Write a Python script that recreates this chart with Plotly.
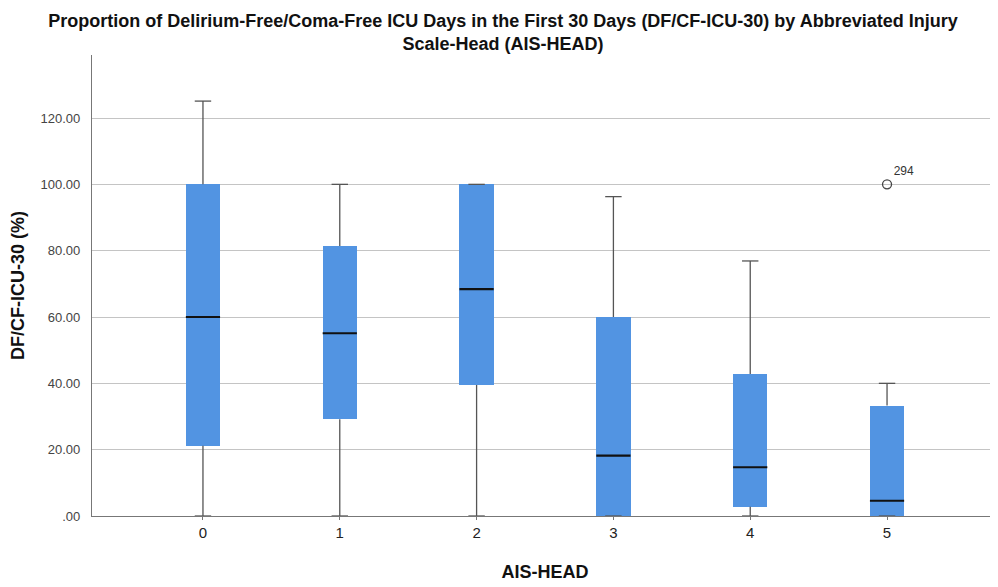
import plotly.graph_objects as go

categories = ["0", "1", "2", "3", "4", "5"]
lower_whisker = [0, 0, 0, 0, 0, 0]
q1 = [21.2, 29.2, 39.5, 0, 2.8, 0]
median = [60.0, 55.1, 68.4, 18.2, 14.7, 4.6]
q3 = [100, 81.4, 100, 60.0, 42.8, 33.3]
upper_whisker = [125.1, 100, 100, 96.3, 76.9, 40.0]
outlier_cat = ["5"]
outlier_val = [100]
outlier_label = ["294"]

ytick_vals = [0, 20, 40, 60, 80, 100, 120]
ytick_text = [".00", "20.00", "40.00", "60.00", "80.00", "100.00", "120.00"]

idx = list(range(len(categories)))
box_w = 0.25
cap_hw = 0.06

fig = go.Figure()

# whiskers
wx, wy = [], []
for i in idx:
    wx += [i, i, None, i, i, None]
    wy += [q3[i], upper_whisker[i], None, q1[i], lower_whisker[i], None]
    wx += [i - cap_hw, i + cap_hw, None, i - cap_hw, i + cap_hw, None]
    wy += [upper_whisker[i], upper_whisker[i], None, lower_whisker[i], lower_whisker[i], None]
fig.add_trace(go.Scatter(x=wx, y=wy, mode="lines", line=dict(color="#555555", width=1.3),
                         hoverinfo="skip", showlegend=False))

# boxes
fig.add_trace(go.Bar(x=idx, y=[q3[i] - q1[i] for i in idx], base=q1, width=box_w,
                     marker=dict(color="#5294E2", line=dict(width=0)), showlegend=False))

# medians
mx, my = [], []
for i in idx:
    mx += [i - box_w / 2, i + box_w / 2, None]
    my += [median[i], median[i], None]
fig.add_trace(go.Scatter(x=mx, y=my, mode="lines", line=dict(color="#111111", width=2.2),
                         hoverinfo="skip", showlegend=False))

# outlier
fig.add_trace(go.Scatter(x=[categories.index(c) for c in outlier_cat], y=outlier_val,
                         mode="markers+text", text=outlier_label, textposition="top right",
                         textfont=dict(family="Liberation Sans, Arial", size=12, color="#333333"),
                         marker=dict(symbol="circle-open", size=9, color="#444444", line=dict(width=1.3)),
                         showlegend=False))

fig.update_layout(
    width=990, height=579,
    paper_bgcolor="white", plot_bgcolor="white",
    margin=dict(l=84, r=0, t=47, b=71),
    title=dict(text="<b>Proportion of Delirium-Free/Coma-Free ICU Days in the First 30 Days (DF/CF-ICU-30) by Abbreviated Injury<br>Scale-Head (AIS-HEAD)</b>",
               x=0.5, xanchor="center", y=1 - 19 / 579, yanchor="middle",
               font=dict(family="Liberation Sans, Arial", size=18, color="#111111")),
    bargap=0,
)
fig.update_xaxes(range=[-0.811, 5.811], tickvals=idx, ticktext=categories,
                 showline=True, linecolor="#777777", linewidth=1.2,
                 ticks="outside", ticklen=3, tickcolor="#777777",
                 showgrid=False, zeroline=False,
                 tickfont=dict(family="Liberation Sans, Arial", size=15, color="#222222"),
                 title=dict(text="<b>AIS-HEAD</b>", standoff=25,
                            font=dict(family="Liberation Sans, Arial", size=18, color="#111111")))
fig.update_yaxes(range=[0, 139], tickvals=ytick_vals, ticktext=ytick_text,
                 showline=True, linecolor="#777777", linewidth=1.2,
                 showgrid=True, gridcolor="#c4c4c4", gridwidth=1.2, zeroline=False,
                 ticks="", ticklabelstandoff=8,
                 tickfont=dict(family="Liberation Sans, Arial", size=13, color="#444444"),
                 title=dict(text="<b>DF/CF-ICU-30 (%)</b>", standoff=14,
                            font=dict(family="Liberation Sans, Arial", size=18, color="#111111")))

fig.write_html("out.html")
